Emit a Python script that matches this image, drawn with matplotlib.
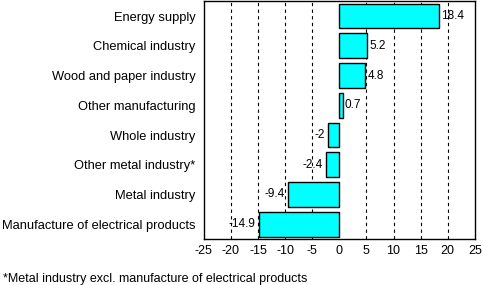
import numpy as np
import matplotlib
matplotlib.use('Agg')
import matplotlib.pyplot as plt

categories = ['Energy supply', 'Chemical industry', 'Wood and paper industry',
              'Other manufacturing', 'Whole industry', 'Other metal industry*',
              'Metal industry', 'Manufacture of electrical products']
values = [18.4, 5.2, 4.8, 0.7, -2, -2.4, -9.4, -14.9]
value_labels = ['18.4', '5.2', '4.8', '0.7', '-2', '-2.4', '-9.4', '-14.9']
xticks = [-25, -20, -15, -10, -5, 0, 5, 10, 15, 20, 25]

plt.rcParams['font.family'] = ['Liberation Sans', 'DejaVu Sans']

fig = plt.figure(figsize=(4.83, 2.85), dpi=100)
ax = fig.add_axes([0.422, 0.161, 0.561, 0.835])

y = np.arange(len(categories))
ax.barh(y, values, height=0.83, color='#00FFFF', edgecolor='black', linewidth=1, zorder=3)

for yi, v, lab in zip(y, values, value_labels):
    if v >= 0:
        ax.text(v + 0.35, yi, lab, va='center', ha='left', fontsize=8.5, zorder=4)
    else:
        ax.text(v - 0.6, yi, lab, va='center', ha='right', fontsize=8.5, zorder=4)

for t in xticks[1:-1]:
    if t != 0:
        ax.axvline(t, color='black', linestyle=(0, (3, 3)), linewidth=0.8, zorder=1)

ax.set_xlim(-25, 25)
ax.set_ylim(len(categories) - 0.5, -0.5)
ax.set_xticks(xticks)
ax.set_xticklabels([str(t) for t in xticks], fontsize=9)
ax.set_yticks(y)
ax.set_yticklabels(categories, fontsize=9.3)
ax.tick_params(axis='y', length=0, pad=6)
ax.tick_params(axis='x', length=0, pad=4)
for s in ax.spines.values():
    s.set_color('black')
    s.set_linewidth(1)

fig.text(0.006, 0.022, '*Metal industry excl. manufacture of electrical products',
         fontsize=9, ha='left', va='center')

fig.savefig('out.png', dpi=100)
